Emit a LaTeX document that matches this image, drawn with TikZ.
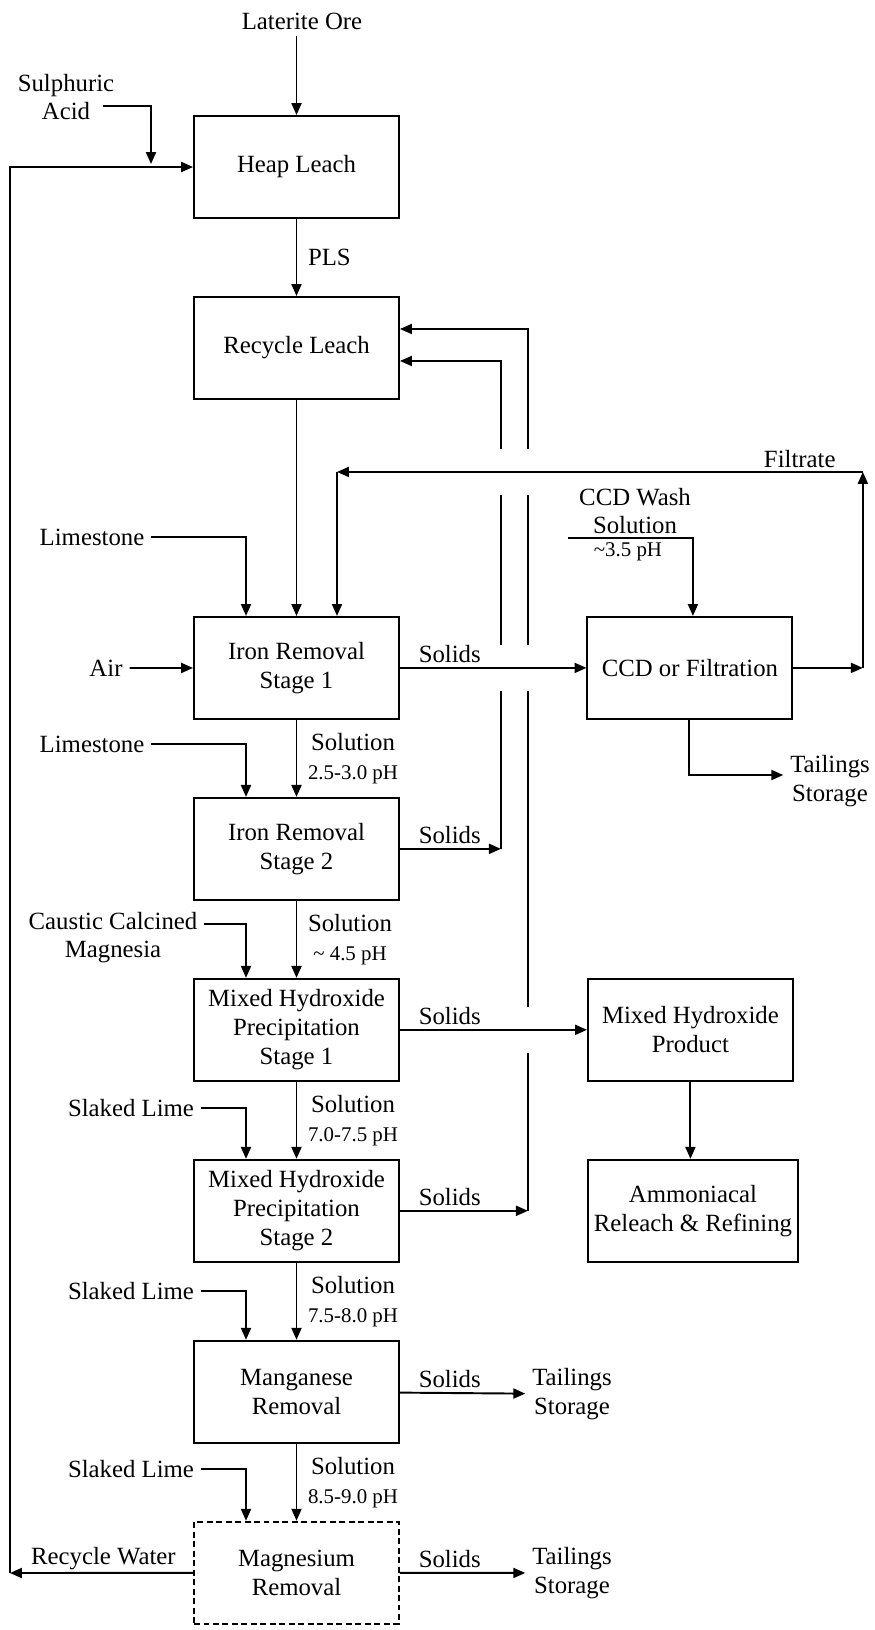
\documentclass[tikz,border=0pt]{standalone}
\usepackage{fontspec}
\setmainfont{Liberation Serif}
\usepackage{tikz}
\usetikzlibrary{positioning,arrows.meta}

\newcommand\phfont{\fontsize{11.9pt}{13pt}\selectfont}

\begin{document}
\begin{tikzpicture}[x=0.02cm,y=-0.02cm,line width=1.1pt,node distance=3.62cm,on grid,
    >={Triangle[length=6.8pt,width=5.7pt]},
    font={\fontsize{14.1pt}{16.4pt}\selectfont},
    procbox/.style={draw,minimum width=4.1cm,minimum height=2.04cm,align=center,inner sep=2pt},
    feed/.style={align=center,inner sep=2pt,outer sep=2pt},
    sol/.style={right,align=center,inner sep=6pt},
    solidl/.style={above right,pos=0,inner sep=2.5pt,xshift=0.27cm}]
  \useasboundingbox (0,0) rectangle (875,1630);

  % main column
  \node[procbox] (heap) at (296.5,167) {Heap Leach};
  \node[procbox] (recyc) [below=of heap] {Recycle Leach};
  \node[procbox] (ir1) [below=6.4cm of recyc] {Iron Removal\\Stage 1};
  \node[procbox] (ir2) [below=of ir1] {Iron Removal\\Stage 2};
  \node[procbox] (mhp1) [below=of ir2] {Mixed Hydroxide\\Precipitation\\Stage 1};
  \node[procbox] (mhp2) [below=of mhp1] {Mixed Hydroxide\\Precipitation\\Stage 2};
  \node[procbox] (mnr) [below=of mhp2] {Manganese\\Removal};
  \node[procbox,dash pattern=on 3.4pt off 2pt] (mgr) [below=of mnr] {Magnesium\\Removal};

  % right column
  \node[procbox] (ccd) [right=7.87cm of ir1] {CCD or Filtration};
  \node[procbox] (mhprod) [right=7.88cm of mhp1] {Mixed Hydroxide\\Product};
  \node[procbox,minimum width=4.2cm] (amm) [below=of mhprod,xshift=0.05cm] {Ammoniacal\\Releach \& Refining};

  % feeds and outlets
  \node[feed] (ore) at (302,21) {Laterite Ore};
  \node[feed] (acid) at (66,97) {Sulphuric\\Acid};
  \node[feed] (lime1) at (92,537) {Limestone};
  \node[feed] (air) at (106,668) {Air};
  \node[feed] (lime2) at (92,744) {Limestone};
  \node[feed] (ccm) at (113,937.5) {Caustic Calcined\\Magnesia};
  \node[feed] (slk1) at (131,1108) {Slaked Lime};
  \node[feed] (slk2) at (131,1291) {Slaked Lime};
  \node[feed] (slk3) at (131,1469) {Slaked Lime};
  \node[feed] (wash) at (635,511) {CCD Wash\\Solution};
  \node[feed] (tail1) at (830,781) {Tailings\\Storage};
  \node[feed] (tail2) at (572,1394) {Tailings\\Storage};
  \node[feed] (tail3) at (572,1573) {Tailings\\Storage};

  \coordinate (acidout) at (103,106);
  \coordinate (acidin) at (151,164);
  \coordinate (washout) at (568,538);
  \coordinate (rw) at (10,1573);
  \coordinate (fout) at ([xshift=1.39cm]ccd.east);
  \coordinate (fup) at ([yshift=3.92cm]fout);
  \coordinate (fdrop) at ([xshift=0.81cm]ir1.north);
  \coordinate (ra) at ([xshift=2.02cm]ir2.east);
  \coordinate (rb) at ([xshift=2.56cm]mhp2.east);
  \coordinate (rla) at ([yshift=-0.26cm]recyc.east);
  \coordinate (rlb) at ([yshift=0.38cm]recyc.east);

  % reagents
  \draw[->] (heap.north |- ore.south) -- (heap.north);
  \draw[->] (acidout) -| (acidin);
  \draw[->] (lime1) -| ([xshift=-1.01cm]ir1.north);
  \draw[->] (air) -- (ir1);
  \draw[->] (lime2) -| ([xshift=-1.01cm]ir2.north);
  \draw[->] ([yshift=0.27cm]ccm.east) -| ([xshift=-1.01cm]mhp1.north);
  \draw[->] (slk1) -| ([xshift=-1.01cm]mhp2.north);
  \draw[->] (slk2) -| ([xshift=-1.01cm]mnr.north);
  \draw[->] (slk3) -| ([xshift=-1.01cm]mgr.north);

  % solution down the main column
  \draw[->] (heap) -- node[sol] {PLS} (recyc);
  \draw[->] (recyc) -- (ir1);
  \draw[->] (ir1) -- node[sol] {Solution\\{\phfont 2.5-3.0 pH}} (ir2);
  \draw[->] (ir2) -- node[sol] {Solution\\{\phfont \textasciitilde{} 4.5 pH}} (mhp1);
  \draw[->] (mhp1) -- node[sol] {Solution\\{\phfont 7.0-7.5 pH}} (mhp2);
  \draw[->] (mhp2) -- node[sol] {Solution\\{\phfont 7.5-8.0 pH}} (mnr);
  \draw[->] (mnr) -- node[sol] {Solution\\{\phfont 8.5-9.0 pH}} (mgr);

  % solids
  \draw[->] (ir1) -- node[solidl] {Solids} (ccd);
  \draw[->] (ir2) -- node[solidl] {Solids} (ra);
  \draw[->] (mhp1) -- node[solidl] {Solids} (mhprod);
  \draw[->] (mhp2) -- node[solidl] {Solids} (rb);
  \draw[->] (mnr) -- node[solidl] {Solids} (tail2);
  \draw[->] (mgr) -- node[solidl] {Solids} (tail3);

  % returns to recycle leach, broken where other streams cross
  \draw[->] (ra) -- ++(0,-158) ++(0,-46) -- ++(0,-150) ++(0,-46) |- (rla);
  \draw[->] (rb) -- ++(0,-158) ++(0,-46) -- ++(0,-316) ++(0,-46) -- ++(0,-150) ++(0,-46) |- (rlb);

  % ccd circuit
  \draw[->] (ccd) -- (fout);
  \draw[->] (fout) -- (fup);
  \draw[->] (fup) -- node[above,pos=0.12,inner sep=2pt] {Filtrate} (fdrop |- fup);
  \draw[->] (fdrop |- fup) -- (fdrop);
  \draw[->] (washout) -| node[below,pos=0.24,inner sep=2pt,font=\phfont] {\textasciitilde3.5 pH} ([xshift=0.06cm]ccd.north);
  \draw[->] ([xshift=-0.02cm]ccd.south) |- ([yshift=0.12cm]tail1.west);
  \draw[->] (mhprod) -- (mhprod |- amm.north);

  % recycle water
  \draw[->] (mgr) -- node[above,pos=0.49,inner sep=1pt] {Recycle Water} (rw);
  \draw[->] (rw) |- (heap);
\end{tikzpicture}
\end{document}
